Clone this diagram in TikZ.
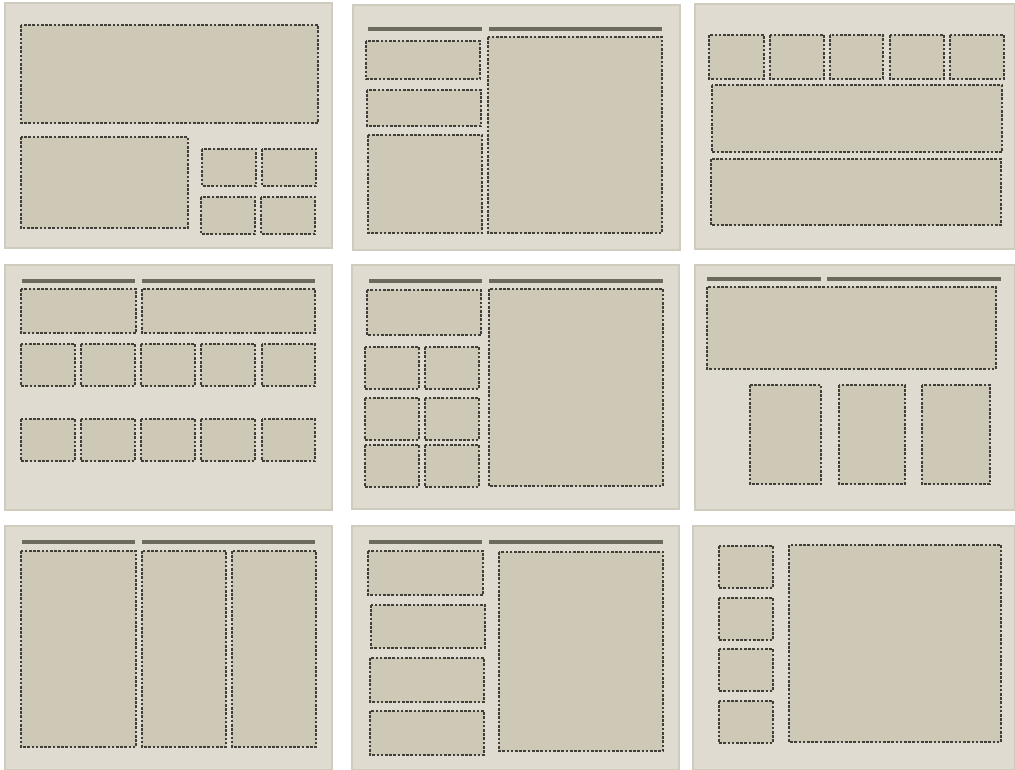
\documentclass[tikz,border=0pt]{standalone}
\usepackage{tikz}
\usetikzlibrary{positioning}
\definecolor{cpanel}{HTML}{DFDBD0}
\definecolor{cedge}{HTML}{CFCBBD}
\definecolor{cbox}{HTML}{CEC8B6}
\definecolor{cdash}{HTML}{403F37}
\definecolor{cbar}{HTML}{6B6A5D}

\begin{document}
\begin{tikzpicture}[
  x=0.02cm, y=-0.02cm,
  panel/.style={fill=cpanel, draw=cedge, line width=0.6pt},
  slot/.style={fill=cbox, draw=cdash, line width=0.62pt, dash pattern=on 1.5pt off 0.9pt},
  bar/.style={draw=cbar, line width=2pt}
]
\useasboundingbox (0,0) rectangle (1015,770);

% row 1
\draw[panel] (5,3) rectangle (332,248);
\draw[slot] (21,25) rectangle (318,123);
\draw[slot] (21,137) rectangle (188,228);
\draw[slot] (202,149) rectangle (256,186);
\draw[slot] (262,149) rectangle (316,186);
\draw[slot] (201,197) rectangle (255,234);
\draw[slot] (261,197) rectangle (315,234);

\draw[panel] (353,5) rectangle (680,250);
\draw[bar] (368,29) -- (482,29);
\draw[bar] (489,29) -- (662,29);
\draw[slot] (366,41) rectangle (480,79);
\draw[slot] (367,90) rectangle (481,126);
\draw[slot] (368,135) rectangle (482,233);
\draw[slot] (488,37) rectangle (662,233);

\draw[panel] (695,4) rectangle (1014.7,249);
\foreach \xa/\xb in {709/764, 770/824, 830/883, 890/944, 950/1004}
  \draw[slot] (\xa,35) rectangle (\xb,79);
\draw[slot] (712,85) rectangle (1002,152);
\draw[slot] (711,159) rectangle (1001,225);

% row 2
\draw[panel] (5,265) rectangle (332,510);
\draw[bar] (22,281) -- (135,281);
\draw[bar] (142,281) -- (315,281);
\draw[slot] (21,289) rectangle (136,333);
\draw[slot] (142,289) rectangle (315,333);
\foreach \xa/\xb in {21/75, 81/135, 141/195, 201/255, 262/315} {
  \draw[slot] (\xa,344) rectangle (\xb,386);
  \draw[slot] (\xa,419) rectangle (\xb,461);
}

\draw[panel] (352,265) rectangle (679,509);
\draw[bar] (369,281) -- (482,281);
\draw[bar] (489,281) -- (663,281);
\draw[slot] (367,290) rectangle (481,335);
\foreach \ya/\yb in {347/389, 398/440, 445/487} {
  \draw[slot] (365,\ya) rectangle (419,\yb);
  \draw[slot] (425,\ya) rectangle (479,\yb);
}
\draw[slot] (489,289) rectangle (663,486);

\draw[panel] (695,265) rectangle (1014.7,510);
\draw[bar] (707,279) -- (821,279);
\draw[bar] (827,279) -- (1001,279);
\draw[slot] (707,287) rectangle (996,369);
\foreach \xa/\xb in {750/821, 839/905, 922/990}
  \draw[slot] (\xa,385) rectangle (\xb,484);

% row 3
\draw[panel] (5,526) rectangle (332,769.7);
\draw[bar] (22,542) -- (135,542);
\draw[bar] (142,542) -- (315,542);
\draw[slot] (21,551) rectangle (136,747);
\draw[slot] (142,551) rectangle (226,747);
\draw[slot] (232,551) rectangle (316,747);

\draw[panel] (352,526) rectangle (679,769.7);
\draw[bar] (369,542) -- (482,542);
\draw[bar] (489,542) -- (663,542);
\draw[slot] (368,551) rectangle (483,595);
\draw[slot] (371,605) rectangle (485,648);
\draw[slot] (370,658) rectangle (484,702);
\draw[slot] (370,711) rectangle (484,755);
\draw[slot] (499,552) rectangle (663,751);

\draw[panel] (693,526) rectangle (1014.7,769.7);
\foreach \ya/\yb in {546/588, 598/640, 649/691, 701/743}
  \draw[slot] (719,\ya) rectangle (773,\yb);
\draw[slot] (789,545) rectangle (1001,742);
\end{tikzpicture}
\end{document}
